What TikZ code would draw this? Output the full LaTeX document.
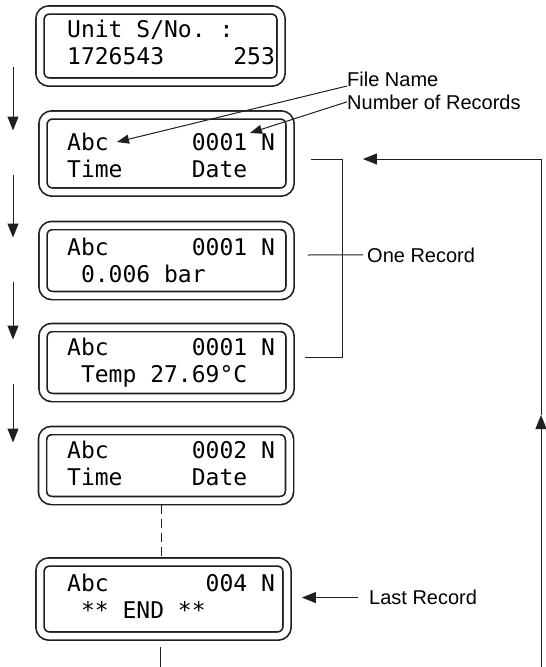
\documentclass[tikz,border=0pt]{standalone}
\usepackage{fontspec}
\newfontfamily\lcdfont{DejaVu Sans Mono}
\newfontfamily\notefont{Liberation Sans}
\usetikzlibrary{calc,arrows.meta}
\colorlet{ink}{black!88}
% one LCD cell for every ~
\newcommand\lcdsetup{\lcdfont\fontsize{23}{27.5}\selectfont\def~{\hphantom{0}}}

\begin{document}
\frenchspacing
\begin{tikzpicture}[x=1pt,y=-1pt,
  lcd/.style={draw=ink,line width=1.7pt,double,double distance=6.5pt,rounded corners=9pt,
    outer sep=4.95pt,minimum width=247pt,minimum height=70pt},
  lcdtext/.style={font=\lcdsetup,text width=230pt,align=left,anchor=base west,inner sep=0pt},
  note/.style={font=\notefont\fontsize{20}{24}\selectfont,inner sep=0pt,anchor=base west},
  wire/.style={draw=ink,line width=1pt},
  flow/.style={wire,-{Triangle[length=14pt,width=11pt]}},
  pointer/.style={wire,-{Triangle[length=12pt,width=9pt]}}]
  \useasboundingbox (0,0) rectangle (546,667);

  % the six screens
  \node[lcd,minimum width=241pt,minimum height=72pt] (d1) at (160.5,46) {};
  \node[lcd,minimum height=77pt] (d2) at (166.5,153.5) {};
  \node[lcd] (d3) at (166.5,260.5) {};
  \node[lcd] (d4) at (166.5,362.5) {};
  \node[lcd] (d5) at (166,465.5) {};
  \node[lcd,minimum height=74pt] (d6) at (163.5,599) {};

  \node[lcdtext] (t1) at (67,37.4) {Unit~S/No.~:\\1726543~~~~~253};
  \node[lcdtext] (t2) at (67,150.4) {Abc~~~~~~0001~N\\Time~~~~~Date};
  \node[lcdtext] (t3) at (67,255.4) {Abc~~~~~~0001~N\\~0.006~bar};
  \node[lcdtext] (t4) at (67,355.4) {Abc~~~~~~0001~N\\~Temp~27.69°C};
  \node[lcdtext] (t5) at (67,458.4) {Abc~~~~~~0002~N\\Time~~~~~Date};
  \node[lcdtext] (t6) at (67,591.4) {Abc~~~~~~~004~N\\~**~END~**};

  % labels
  \node[note] (fname) at (347,86) {File Name};
  \node[note] (numrec) at (347,109) {Number of Records};
  \node[note] (onerec) at (367,262) {One Record};
  \node[note] (lastrec) at (369,604.7) {Last Record};

  \coordinate (rail) at (13,0);
  \coordinate (trunk) at (161,0);
  \coordinate (exit) at (160,667);
  \coordinate (loopin) at (541,667);
  \coordinate (loopmid) at (541,415);
  \coordinate (abcend) at (117,142);
  \coordinate (numend) at (250,133);

  % scrolling arrows
  \foreach \a/\b in {d1/d2,d2/d3,d3/d4,d4/d5}
    \draw[flow] ($(\a.center -| rail)+(0,21)$) -- ($(\b.center -| rail)+(0,-23)$);
  \draw[wire,dash pattern=on 9pt off 5pt] (d5.south -| trunk) -- (d6.north -| trunk);
  \draw[wire] ($(d6.south -| exit)+(0,6)$) -- (exit);

  % record bracket
  \draw[wire] ($(d2.east)+(16,5.5)$) -| ($(d4.east)+(48,-5.5)$) -- ($(d4.east)+(10,-5.5)$);
  \draw[wire] ($(d3.east)+(13,-5.5)$) -- ($(onerec.west)+(-4,0)$);

  % return loop
  \draw[flow] (loopin) -- (loopmid);
  \draw[flow] (loopmid) |- ($(d2.east)+(68,5.5)$);

  \draw[pointer] (fname.base west) -- (abcend);
  \draw[pointer] (numrec.west) -- (numend);
  \draw[flow] ($(lastrec.west)+(-11,0)$) -- ($(d6.east |- lastrec.west)+(10,0)$);
\end{tikzpicture}
\end{document}
